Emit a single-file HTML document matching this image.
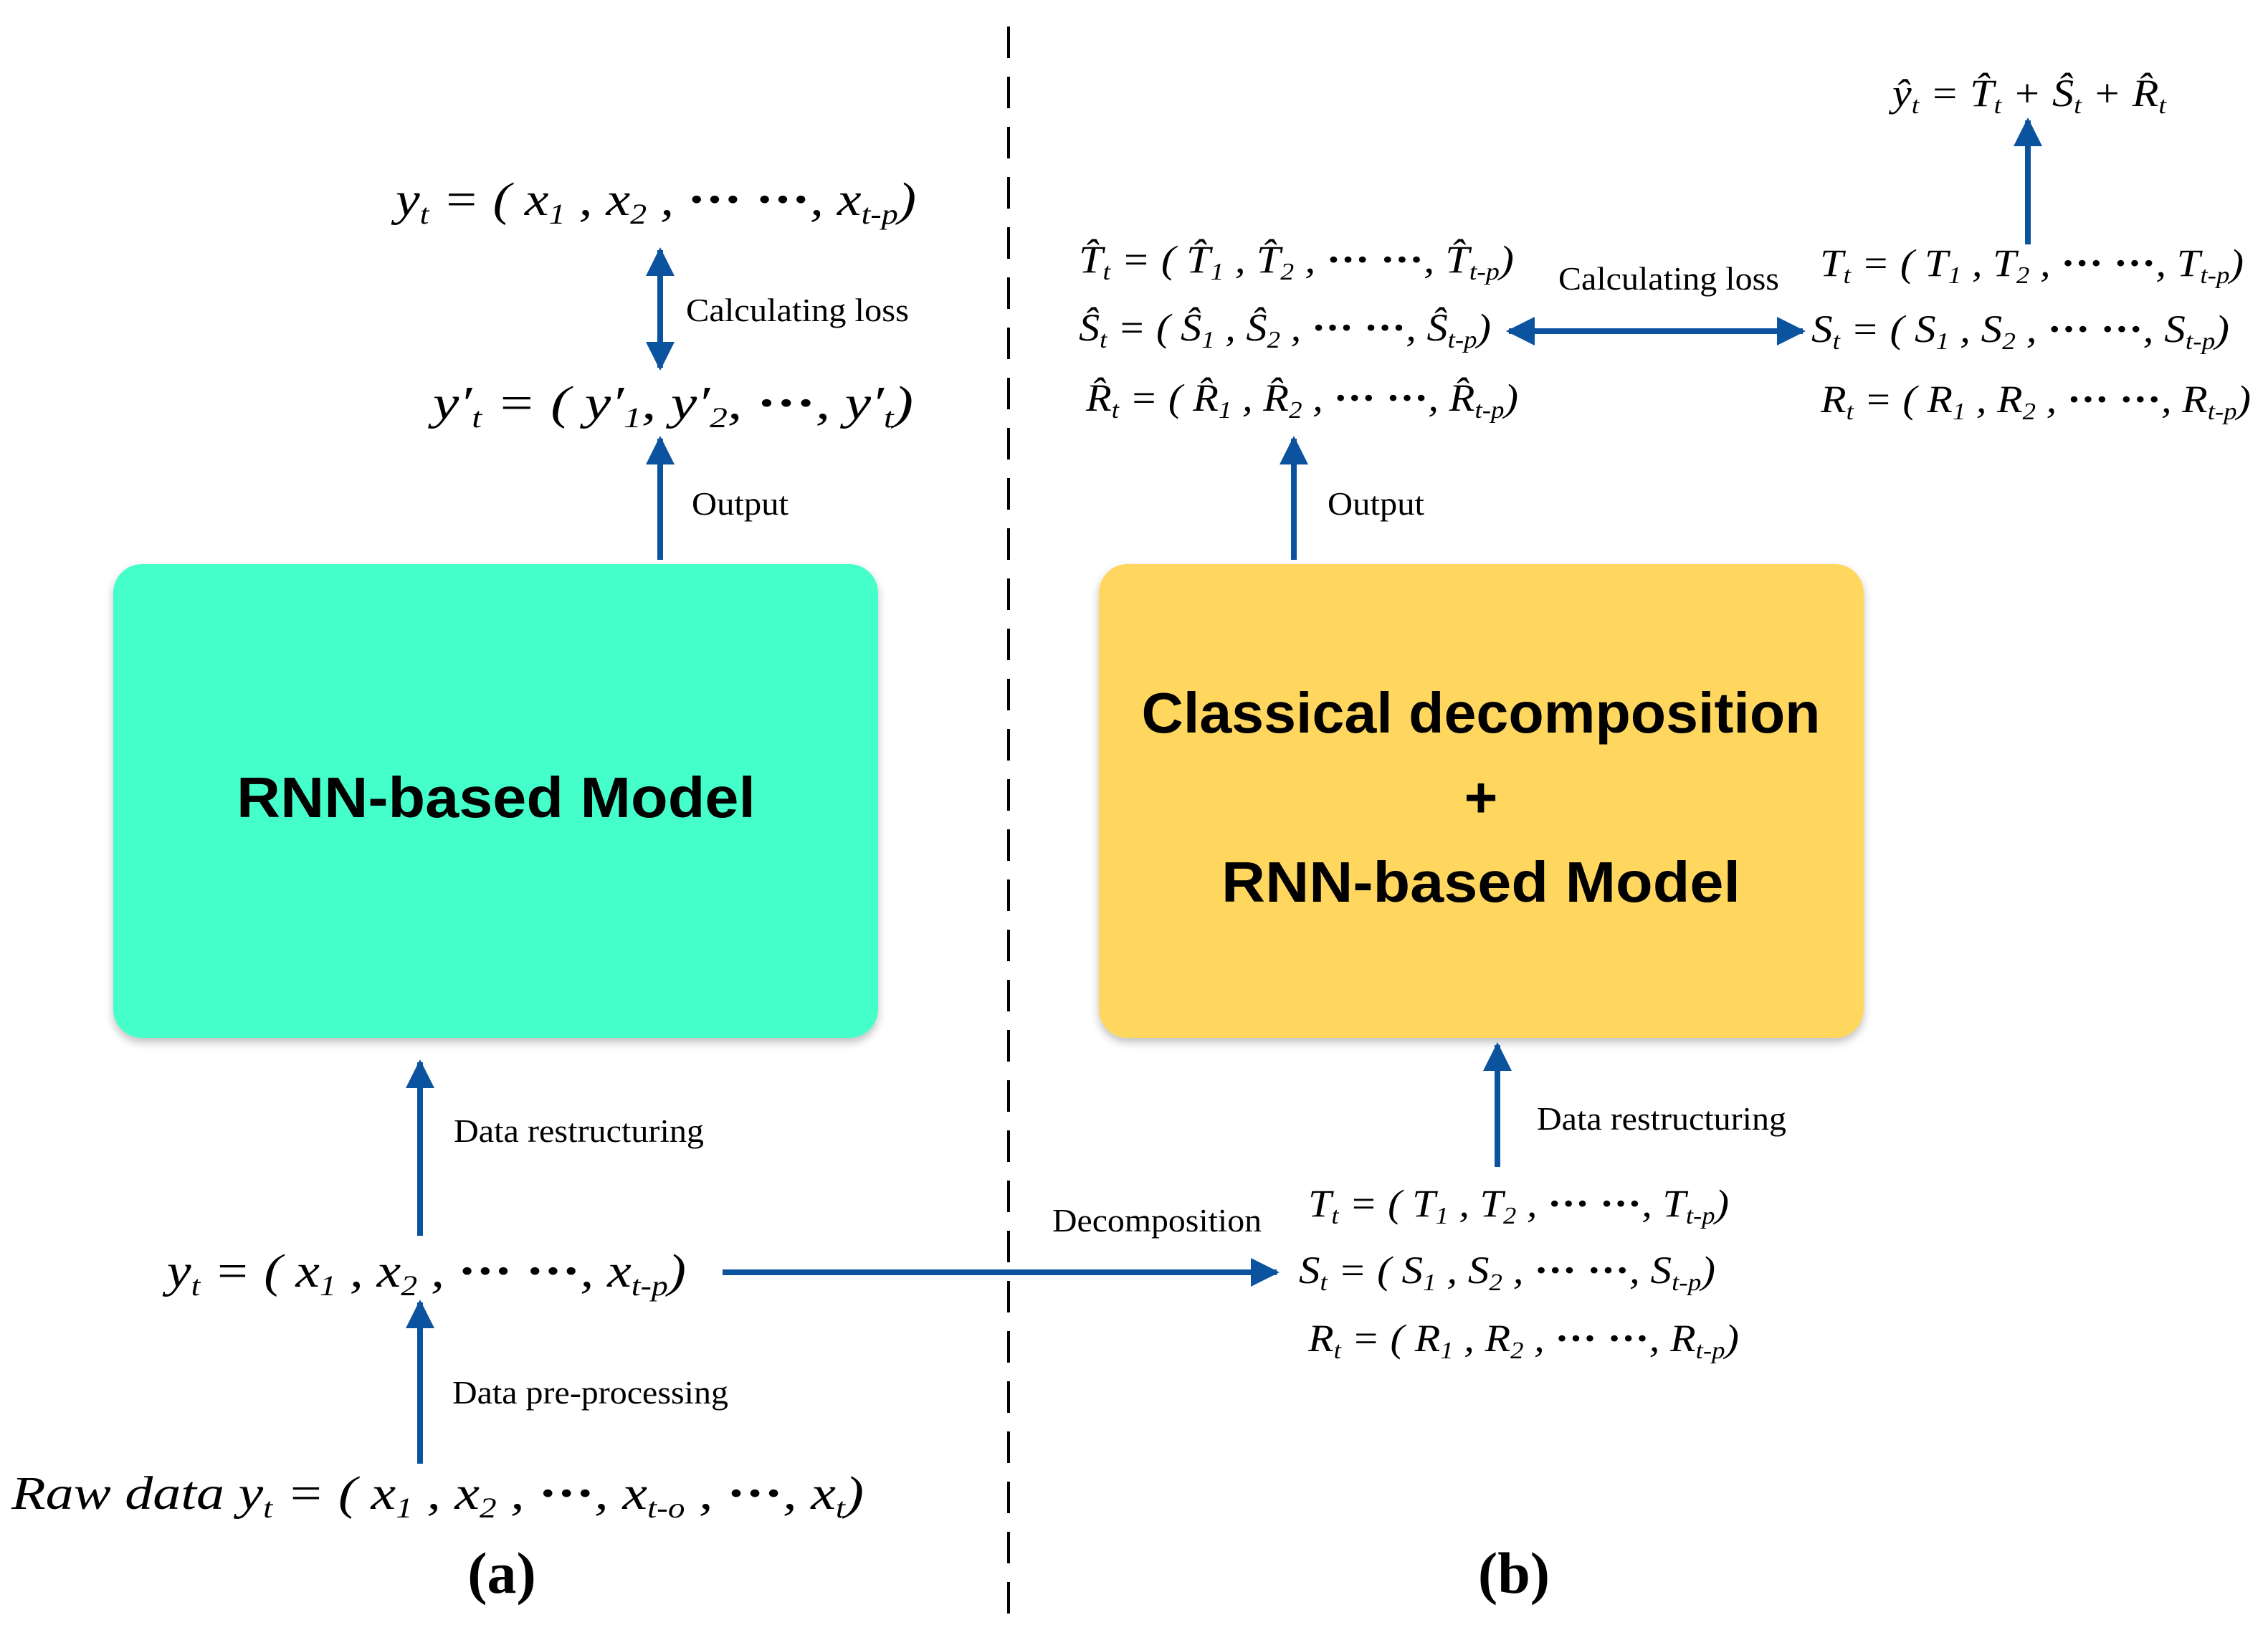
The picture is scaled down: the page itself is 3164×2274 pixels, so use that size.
<!DOCTYPE html>
<html><head><meta charset="utf-8"><style>
html,body{margin:0;padding:0;background:#fff;}
svg{display:block;}
.f{font-family:"Liberation Serif",serif;font-style:italic;fill:#000;}
.l{font-family:"Liberation Serif",serif;fill:#000;font-size:45px;}
.b{font-family:"Liberation Sans",sans-serif;font-weight:bold;fill:#000;}
.d{font-style:normal;font-weight:bold;}
</style></head><body>
<svg width="3164" height="2274" viewBox="0 0 3164 2274" xmlns="http://www.w3.org/2000/svg">
<defs>
<filter id="sh" x="-5%" y="-5%" width="110%" height="112%"><feDropShadow dx="0" dy="6" stdDeviation="6" flood-color="#000" flood-opacity="0.25"/></filter>
<marker id="ah" viewBox="0 0 10 10" refX="9" refY="5" markerWidth="5" markerHeight="6" markerUnits="strokeWidth" orient="auto-start-reverse"><path d="M0,0 L10,5 L0,10 z" fill="#0B539E"/></marker>
</defs>

<line x1="1407" y1="37" x2="1407" y2="2255" stroke="#000" stroke-width="4" stroke-dasharray="44,26"/>

<rect x="158" y="787" width="1067" height="661" rx="40" fill="#45FFCB" filter="url(#sh)"/>
<rect x="1533" y="787" width="1067" height="661" rx="40" fill="#FFD75E" filter="url(#sh)"/>
<text class="b" x="692" y="1140" font-size="80" text-anchor="middle" textLength="724" lengthAdjust="spacingAndGlyphs">RNN-based Model</text>
<text class="b" x="2066" y="1022" font-size="80" text-anchor="middle" textLength="947" lengthAdjust="spacingAndGlyphs">Classical decomposition</text>
<text class="b" x="2066" y="1140" font-size="80" text-anchor="middle">+</text>
<text class="b" x="2066" y="1258" font-size="80" text-anchor="middle" textLength="724" lengthAdjust="spacingAndGlyphs">RNN-based Model</text>

<g stroke="#0B539E" stroke-width="8" fill="none">
<line x1="921" y1="349" x2="921" y2="513" marker-start="url(#ah)" marker-end="url(#ah)"/>
<line x1="921" y1="781" x2="921" y2="612" marker-end="url(#ah)"/>
<line x1="586" y1="1724" x2="586" y2="1482" marker-end="url(#ah)"/>
<line x1="586" y1="2042" x2="586" y2="1817" marker-end="url(#ah)"/>
<line x1="1008" y1="1775" x2="1781" y2="1775" marker-end="url(#ah)"/>
<line x1="2089" y1="1628" x2="2089" y2="1458" marker-end="url(#ah)"/>
<line x1="1805" y1="781" x2="1805" y2="612" marker-end="url(#ah)"/>
<line x1="2105" y1="462" x2="2515" y2="462" marker-start="url(#ah)" marker-end="url(#ah)"/>
<line x1="2829" y1="341" x2="2829" y2="168" marker-end="url(#ah)"/>
</g>

<text class="l" x="957" y="448" textLength="311" lengthAdjust="spacingAndGlyphs">Calculating loss</text>
<text class="l" x="965" y="718" textLength="135" lengthAdjust="spacingAndGlyphs">Output</text>
<text class="l" x="633" y="1593" textLength="349" lengthAdjust="spacingAndGlyphs">Data restructuring</text>
<text class="l" x="631" y="1958" textLength="385" lengthAdjust="spacingAndGlyphs">Data pre-processing</text>
<text class="l" x="1468" y="1718" textLength="292" lengthAdjust="spacingAndGlyphs">Decomposition</text>
<text class="l" x="2144" y="1576" textLength="348" lengthAdjust="spacingAndGlyphs">Data restructuring</text>
<text class="l" x="1852" y="718" textLength="135" lengthAdjust="spacingAndGlyphs">Output</text>
<text class="l" x="2174" y="404" textLength="308" lengthAdjust="spacingAndGlyphs">Calculating loss</text>

<text class="f" x="552" y="300" font-size="66" textLength="726" lengthAdjust="spacingAndGlyphs">y<tspan font-size="40" dy="12">t</tspan><tspan dy="-12"> = ( x</tspan><tspan font-size="40" dy="12">1</tspan><tspan dy="-12"> , x</tspan><tspan font-size="40" dy="12">2</tspan><tspan dy="-12"> , </tspan><tspan class="d">··· ···</tspan>, x<tspan font-size="40" dy="12">t-p</tspan><tspan dy="-12">)</tspan></text>
<text class="f" x="604" y="584" font-size="66" textLength="670" lengthAdjust="spacingAndGlyphs">y′<tspan font-size="40" dy="12">t</tspan><tspan dy="-12"> =  ( y′</tspan><tspan font-size="40" dy="12">1</tspan><tspan dy="-12">, y′</tspan><tspan font-size="40" dy="12">2</tspan><tspan dy="-12">, </tspan><tspan class="d">···</tspan>, y′<tspan font-size="40" dy="12">t</tspan><tspan dy="-12">)</tspan></text>
<text class="f" x="233" y="1795" font-size="66" textLength="724" lengthAdjust="spacingAndGlyphs">y<tspan font-size="40" dy="12">t</tspan><tspan dy="-12"> = ( x</tspan><tspan font-size="40" dy="12">1</tspan><tspan dy="-12"> , x</tspan><tspan font-size="40" dy="12">2</tspan><tspan dy="-12"> , </tspan><tspan class="d">··· ···</tspan>, x<tspan font-size="40" dy="12">t-p</tspan><tspan dy="-12">)</tspan></text>
<text class="f" x="16" y="2105" font-size="66" textLength="1189" lengthAdjust="spacingAndGlyphs">Raw data  y<tspan font-size="40" dy="12">t</tspan><tspan dy="-12"> =  ( x</tspan><tspan font-size="40" dy="12">1</tspan><tspan dy="-12"> , x</tspan><tspan font-size="40" dy="12">2</tspan><tspan dy="-12"> , </tspan><tspan class="d">···</tspan>, x<tspan font-size="40" dy="12">t-o</tspan><tspan dy="-12"> , </tspan><tspan class="d">···</tspan>, x<tspan font-size="40" dy="12">t</tspan><tspan dy="-12">)</tspan></text>

<text class="f" x="1825" y="1697" font-size="54" textLength="587" lengthAdjust="spacingAndGlyphs">T<tspan font-size="34" dy="10">t</tspan><tspan dy="-10"> = ( T</tspan><tspan font-size="34" dy="10">1</tspan><tspan dy="-10"> , T</tspan><tspan font-size="34" dy="10">2</tspan><tspan dy="-10"> , </tspan><tspan class="d">··· ···</tspan>, T<tspan font-size="34" dy="10">t-p</tspan><tspan dy="-10">)</tspan></text>
<text class="f" x="1812" y="1790" font-size="54" textLength="581" lengthAdjust="spacingAndGlyphs">S<tspan font-size="34" dy="10">t</tspan><tspan dy="-10"> = ( S</tspan><tspan font-size="34" dy="10">1</tspan><tspan dy="-10"> , S</tspan><tspan font-size="34" dy="10">2</tspan><tspan dy="-10"> , </tspan><tspan class="d">··· ···</tspan>, S<tspan font-size="34" dy="10">t-p</tspan><tspan dy="-10">)</tspan></text>
<text class="f" x="1825" y="1885" font-size="54" textLength="601" lengthAdjust="spacingAndGlyphs">R<tspan font-size="34" dy="10">t</tspan><tspan dy="-10"> = ( R</tspan><tspan font-size="34" dy="10">1</tspan><tspan dy="-10"> , R</tspan><tspan font-size="34" dy="10">2</tspan><tspan dy="-10"> , </tspan><tspan class="d">··· ···</tspan>, R<tspan font-size="34" dy="10">t-p</tspan><tspan dy="-10">)</tspan></text>

<text class="f" x="1505" y="380" font-size="54" textLength="607" lengthAdjust="spacingAndGlyphs">T̂<tspan font-size="34" dy="10">t</tspan><tspan dy="-10"> = ( T̂</tspan><tspan font-size="34" dy="10">1</tspan><tspan dy="-10"> , T̂</tspan><tspan font-size="34" dy="10">2</tspan><tspan dy="-10"> , </tspan><tspan class="d">··· ···</tspan>, T̂<tspan font-size="34" dy="10">t-p</tspan><tspan dy="-10">)</tspan></text>
<text class="f" x="1505" y="475" font-size="54" textLength="575" lengthAdjust="spacingAndGlyphs">Ŝ<tspan font-size="34" dy="10">t</tspan><tspan dy="-10"> = ( Ŝ</tspan><tspan font-size="34" dy="10">1</tspan><tspan dy="-10"> , Ŝ</tspan><tspan font-size="34" dy="10">2</tspan><tspan dy="-10"> , </tspan><tspan class="d">··· ···</tspan>, Ŝ<tspan font-size="34" dy="10">t-p</tspan><tspan dy="-10">)</tspan></text>
<text class="f" x="1515" y="573" font-size="54" textLength="603" lengthAdjust="spacingAndGlyphs">R̂<tspan font-size="34" dy="10">t</tspan><tspan dy="-10"> = ( R̂</tspan><tspan font-size="34" dy="10">1</tspan><tspan dy="-10"> , R̂</tspan><tspan font-size="34" dy="10">2</tspan><tspan dy="-10"> , </tspan><tspan class="d">··· ···</tspan>, R̂<tspan font-size="34" dy="10">t-p</tspan><tspan dy="-10">)</tspan></text>

<text class="f" x="2539" y="385" font-size="54" textLength="591" lengthAdjust="spacingAndGlyphs">T<tspan font-size="34" dy="10">t</tspan><tspan dy="-10"> = ( T</tspan><tspan font-size="34" dy="10">1</tspan><tspan dy="-10"> , T</tspan><tspan font-size="34" dy="10">2</tspan><tspan dy="-10"> , </tspan><tspan class="d">··· ···</tspan>, T<tspan font-size="34" dy="10">t-p</tspan><tspan dy="-10">)</tspan></text>
<text class="f" x="2527" y="477" font-size="54" textLength="583" lengthAdjust="spacingAndGlyphs">S<tspan font-size="34" dy="10">t</tspan><tspan dy="-10"> = ( S</tspan><tspan font-size="34" dy="10">1</tspan><tspan dy="-10"> , S</tspan><tspan font-size="34" dy="10">2</tspan><tspan dy="-10"> , </tspan><tspan class="d">··· ···</tspan>, S<tspan font-size="34" dy="10">t-p</tspan><tspan dy="-10">)</tspan></text>
<text class="f" x="2540" y="575" font-size="54" textLength="600" lengthAdjust="spacingAndGlyphs">R<tspan font-size="34" dy="10">t</tspan><tspan dy="-10"> = ( R</tspan><tspan font-size="34" dy="10">1</tspan><tspan dy="-10"> , R</tspan><tspan font-size="34" dy="10">2</tspan><tspan dy="-10"> , </tspan><tspan class="d">··· ···</tspan>, R<tspan font-size="34" dy="10">t-p</tspan><tspan dy="-10">)</tspan></text>

<text class="f" x="2640" y="148" font-size="54" textLength="382" lengthAdjust="spacingAndGlyphs">ŷ<tspan font-size="34" dy="10">t</tspan><tspan dy="-10"> =  T̂</tspan><tspan font-size="34" dy="10">t</tspan><tspan dy="-10"> + Ŝ</tspan><tspan font-size="34" dy="10">t</tspan><tspan dy="-10"> + R̂</tspan><tspan font-size="34" dy="10">t</tspan></text>

<text x="700" y="2222" font-family="Liberation Serif, serif" font-weight="bold" font-size="82" text-anchor="middle">(a)</text>
<text x="2112" y="2222" font-family="Liberation Serif, serif" font-weight="bold" font-size="82" text-anchor="middle">(b)</text>
</svg>
</body></html>
